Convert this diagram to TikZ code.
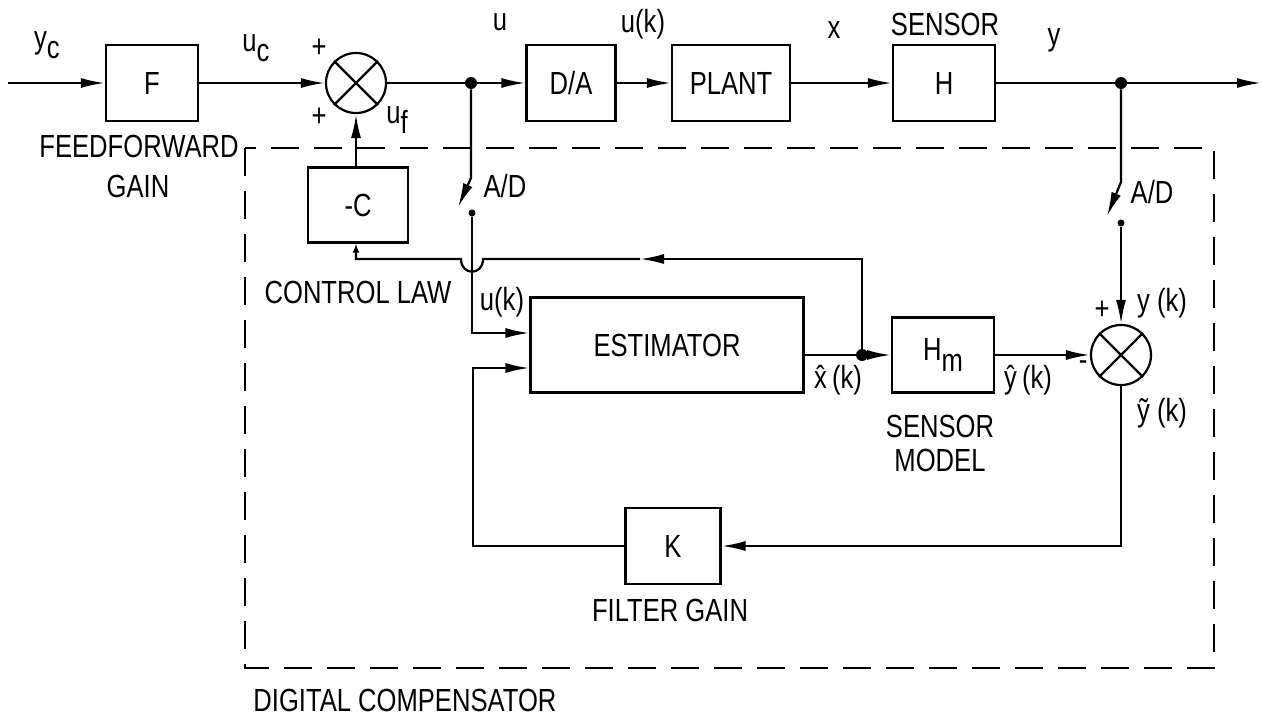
\documentclass[tikz,border=0pt]{standalone}
\usepackage{fontspec}
\setmainfont{Liberation Sans}[FakeStretch=0.8]
\usetikzlibrary{arrows.meta}
\newcommand{\lowsub}[1]{\raisebox{-.6ex}{#1}}
\tikzset{
  box/.style={draw,line width=1.1pt,inner sep=0pt,minimum height=38pt,font=\fontsize{16}{18}\selectfont},
  sumj/.style={draw,circle,line width=1.1pt,minimum size=30pt,inner sep=0pt},
  lbl/.style={inner sep=0pt,font=\fontsize{16}{18}\selectfont},
  sig/.style={-{Latex[length=12pt,width=5pt]},line width=1.1pt},
  sigs/.style={-{Latex[length=4.5pt,width=3.5pt]},line width=1.1pt},
  wire/.style={line width=1.1pt},
  dot/.style={circle,fill,inner sep=0pt,minimum size=6pt},
  cdot/.style={circle,fill,inner sep=0pt,minimum size=3.5pt},
  comp/.style={line width=1.1pt,dash pattern=on 14pt off 7.5pt},
}
\begin{document}
\begin{tikzpicture}[x=0.5pt,y=-0.5pt]
  \useasboundingbox (0,0) rectangle (1262,718);
  % forward path
  \coordinate (in) at (8,83);
  \coordinate (out) at (1261,83);
  \node[box,minimum width=46pt] (F) at (152,83) {F};
  \node[sumj] (s1) at (356,83) {};
  \draw[wire] (s1.45) -- (s1.225) (s1.135) -- (s1.315);
  \node[dot] (jL) at (471,83) {};
  \node[box,minimum width=44.5pt] (da) at (571,83) {D/A};
  \node[box,minimum width=59pt] (plant) at (731,83) {PLANT};
  \node[box,minimum width=51pt] (H) at (944,83) {H};
  \node[dot] (jR) at (1121,83) {};
  \draw[sig] (in) -- (F);
  \draw[sig] (F) -- (s1);
  \draw[wire] (s1) -- (jL);
  \draw[sig] (jL) -- (da);
  \draw[sig] (da) -- (plant);
  \draw[sig] (plant) -- (H);
  \draw[wire] (H) -- (jR);
  \draw[sig] (jR) -- (out);
  % digital compensator
  \draw[comp] (245,148) rectangle (1214,668);
  \node[box,minimum width=50pt,minimum height=37.5pt] (negc) at (358,205) {-C};
  \node[box,minimum width=136.5pt,minimum height=47.5pt] (est) at (667,345) {ESTIMATOR};
  \node[box,minimum width=51pt,minimum height=37.5pt] (hm) at (943,355) {H\lowsub{m}};
  \node[sumj] (s2) at (1121,355) {};
  \draw[wire] (s2.45) -- (s2.225) (s2.135) -- (s2.315);
  \node[box,minimum width=47.5pt] (K) at (673,546) {K};
  \node[dot] (xo) at (862,355) {};
  \node[cdot] (cL) at (472,213) {};
  \node[cdot] (cR) at (1121,223) {};
  \coordinate (aL) at (471,178);
  \coordinate (bL) at (458,207);
  \coordinate (aR) at (1121,182);
  \coordinate (bR) at (1107,216);
  \coordinate (uk) at (472,333);
  \coordinate (ke) at (1121,546);
  \coordinate (kw) at (473,546);
  \coordinate (kin) at (473,368);
  \coordinate (fb) at (862,259);
  \coordinate (fbm) at (640,259);
  % A/D switches
  \draw[sig] (jL) -- (aL) -- (bL);
  \draw[sig] (jR) -- (aR) -- (bR);
  \draw[sig] (cL) -- (uk) -- (uk -| est.west);
  \draw[sig] (cR) -- (s2);
  \draw[sig] (negc.north -| s1) -- (s1);
  \draw[sig] (est.east |- xo) -- (hm.west);
  \draw[sig] (hm) -- (s2);
  \draw[sig] (s2) -- (ke) -- (K);
  \draw[sig] (K) -- (kw) -- (kin) -- (kin -| est.west);
  % state feedback, hopping over u(k)
  \draw[sig] (xo) -- (fb) -- (fbm);
  \draw[sigs] (fbm) -- (483,259) .. controls (483,276) and (461,276) .. (461,259) -| (negc.south -| s1);
  % labels
  \node[lbl] (lyc) at (47,45) {y\lowsub{c}};
  \node[lbl] (luc) at (256,48) {u\lowsub{c}};
  \node[lbl] (lp1) at (319,48) {+};
  \node[lbl] (lp2) at (319,117) {+};
  \node[lbl] (luf) at (397,120) {u\lowsub{f}};
  \node[lbl] (lff) at (139,146) {FEEDFORWARD};
  \node[lbl] (lgain) at (138,186) {GAIN};
  \node[lbl] (lu) at (500,22) {u};
  \node[lbl] (luk) at (643,24) {u(k)};
  \node[lbl] (lx) at (834,30) {x};
  \node[lbl] (lsen) at (945,24) {SENSOR};
  \node[lbl] (ly) at (1054,40) {y};
  \node[lbl] (ladl) at (505,186) {A/D};
  \node[lbl] (ladr) at (1152,192) {A/D};
  \node[lbl] (lcl) at (358,292) {CONTROL LAW};
  \node[lbl] (luk2) at (502,302) {u(k)};
  \node[lbl] (lxh) at (838,380) {\^{x}\,(k)};
  \node[lbl] (lyh) at (1028,380) {\^{y}\,(k)};
  \node[lbl] (lmin) at (1083,366) {-};
  \node[lbl] (lp3) at (1102,310) {+};
  \node[lbl] (lyk) at (1162,303) {y (k)};
  \node[lbl] (lyt) at (1162,413) {\~{y} (k)};
  \node[lbl] (lsm1) at (940,426) {SENSOR};
  \node[lbl] (lsm2) at (940,460) {MODEL};
  \node[lbl] (lfg) at (670,610) {FILTER GAIN};
  \node[lbl,anchor=west] (ldc) at (253,700) {DIGITAL COMPENSATOR};
\end{tikzpicture}
\end{document}
